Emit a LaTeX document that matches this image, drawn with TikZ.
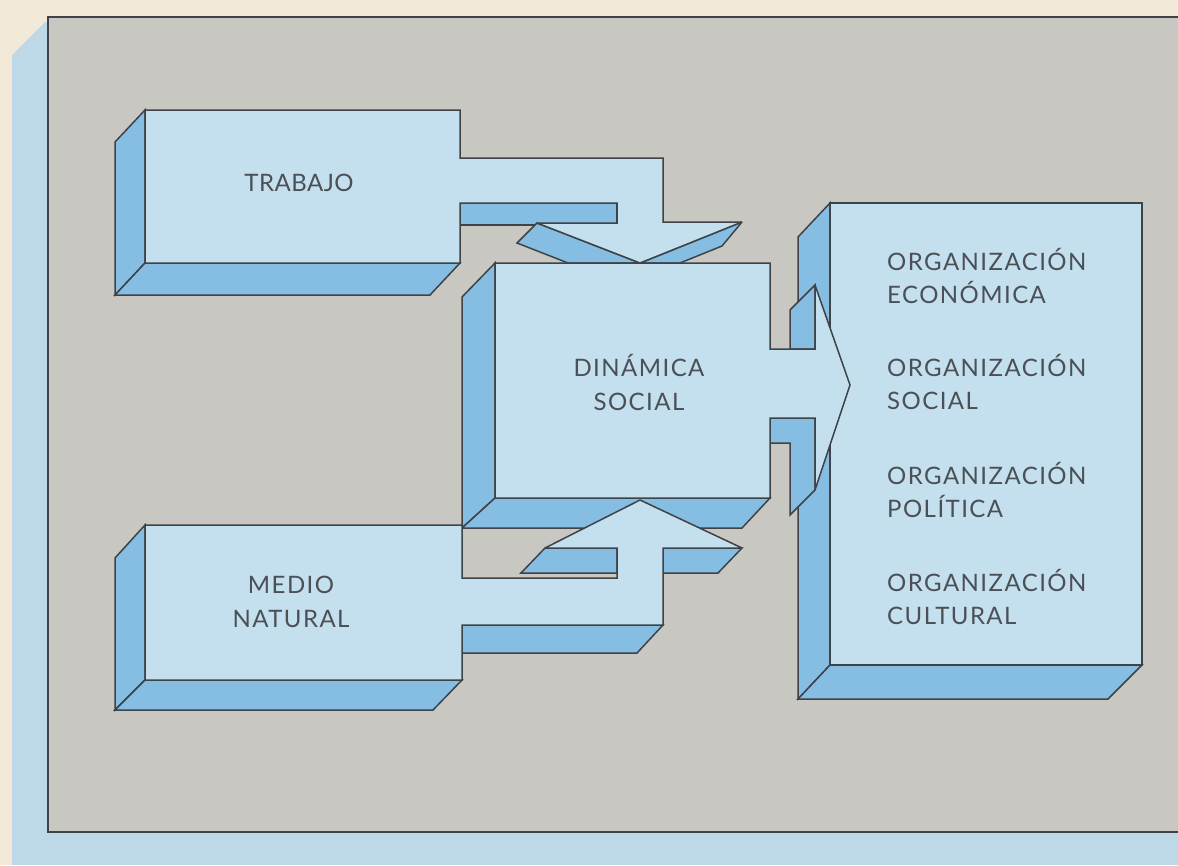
\documentclass[tikz,border=0pt]{standalone}
\usepackage{fontspec}
\setmainfont{Lato}[LetterSpace=6]
\newfontfamily\tightfont{Lato}[LetterSpace=2]
\definecolor{cream}{HTML}{F2E9D8}
\definecolor{bandblue}{HTML}{BDD9E7}
\definecolor{framegray}{HTML}{C9C7C1}
\definecolor{faceblue}{HTML}{C4DFED}
\definecolor{sideblue}{HTML}{86BDE2}
\definecolor{edgec}{HTML}{3E4347}
\definecolor{txt}{HTML}{4A5055}
\tikzset{
  face/.style={fill=faceblue, draw=edgec, line width=1.5pt, line join=miter, miter limit=3},
  side/.style={fill=sideblue, draw=edgec, line width=1.5pt, line join=miter, miter limit=3},
  lbl/.style={text=txt, font=\fontsize{24}{34}\selectfont, align=center, inner sep=0pt},
  orglbl/.style={text=txt, font=\fontsize{24}{33}\selectfont, align=left, anchor=west, inner sep=0pt},
}
\begin{document}
\begin{tikzpicture}[x=1pt,y=-1pt]
\useasboundingbox (0,0) rectangle (1178,865);
\clip (0,0) rectangle (1178,865);
% background
\fill[cream] (0,0) rectangle (1178,865);
\fill[bandblue] (12,55) -- (45,22) -- (48,22) -- (48,832) -- (1178,832) -- (1178,865) -- (12,865) -- cycle;
\filldraw[fill=framegray, draw=edgec, line width=1.8pt] (1190,17) -- (48,17) -- (48,832) -- (1190,832);

% ORGANIZACION box
\draw[side] (830,203) -- (798,237) -- (798,699) -- (830,665) -- cycle;
\draw[side] (830,665) -- (1142,665) -- (1108,699) -- (798,699) -- cycle;
\draw[face] (830,203) -- (1142,203) -- (1142,665) -- (830,665) -- cycle;

% TRABAJO box with arrow down
\draw[side] (145,110) -- (115,142) -- (115,295) -- (145,263) -- cycle;
\draw[side] (145,263) -- (460,263) -- (430,295) -- (115,295) -- cycle;
\draw[side] (460,203) -- (617,203) -- (617,225) -- (460,225) -- cycle;
\draw[side] (537,223) -- (640,263) -- (568,263) -- (517,243) -- cycle;
\draw[side] (742,222) -- (722,246) -- (680,263) -- (640,263) -- cycle;
\draw[face] (145,110) -- (460,110) -- (460,158) -- (663,158) -- (663,222) -- (742,222)
  -- (640,263) -- (537,223) -- (617,223) -- (617,203) -- (460,203) -- (460,263) -- (145,263) -- cycle;

% DINAMICA box with arrow right
\draw[side] (495,263) -- (462,297) -- (462,528) -- (495,498) -- cycle;
\draw[side] (495,498) -- (770,498) -- (742,528) -- (462,528) -- cycle;
\draw[side] (815,285) -- (815,349) -- (790,349) -- (790,310) -- cycle;
\draw[side] (770,418) -- (815,418) -- (815,490) -- (790,515) -- (790,443) -- (770,443) -- cycle;
\draw[face] (495,263) -- (770,263) -- (770,349) -- (815,349) -- (815,285) -- (850,385)
  -- (815,490) -- (815,418) -- (770,418) -- (770,498) -- (495,498) -- cycle;

% MEDIO NATURAL box with arrow up
\draw[side] (145,525) -- (115,558) -- (115,710) -- (145,680) -- cycle;
\draw[side] (145,680) -- (462,680) -- (433,710) -- (115,710) -- cycle;
\draw[side] (462,625) -- (663,625) -- (637,653) -- (462,653) -- cycle;
\draw[side] (545,548) -- (617,548) -- (617,573) -- (521,573) -- cycle;
\draw[side] (663,548) -- (742,548) -- (718,573) -- (663,573) -- cycle;
\draw[face] (145,525) -- (462,525) -- (462,578) -- (617,578) -- (617,548) -- (545,548)
  -- (640,500) -- (742,548) -- (663,548) -- (663,625) -- (462,625) -- (462,680) -- (145,680) -- cycle;

% labels
\node[lbl, font=\tightfont\fontsize{24}{34}\selectfont] (trabajo) at (299,183) {TRABAJO};
\node[lbl] (dinamica) at (639,382) {DINÁMICA\\SOCIAL};
\node[lbl] (medio) at (291,602) {MEDIO\\NATURAL};
\node[orglbl] (eco) at (887,276) {ORGANIZACIÓN\\ECONÓMICA};
\node[orglbl] (soc) at (887,382) {ORGANIZACIÓN\\SOCIAL};
\node[orglbl] (pol) at (887,490) {ORGANIZACIÓN\\POLÍTICA};
\node[orglbl] (cul) at (887,597) {ORGANIZACIÓN\\CULTURAL};
\end{tikzpicture}
\end{document}
